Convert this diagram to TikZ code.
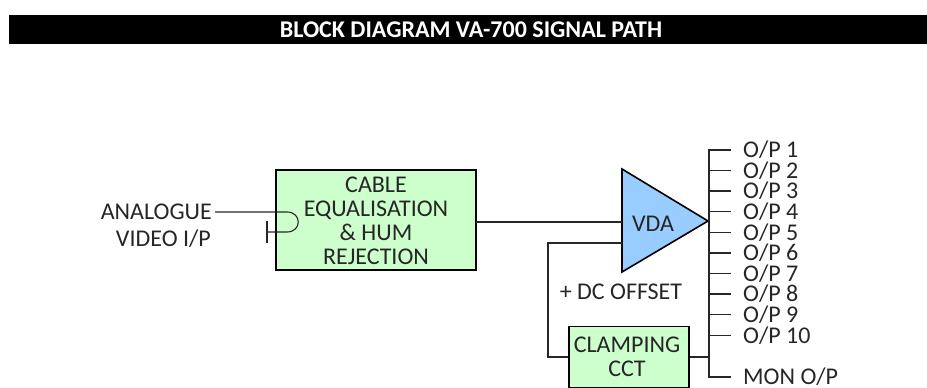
\documentclass[tikz,border=0pt]{standalone}
\usepackage{fontspec}
\setmainfont{Carlito}
\definecolor{boxgreen}{HTML}{CCFFCC}
\definecolor{ampblue}{HTML}{99CCFF}
\definecolor{inktext}{HTML}{262626}
\tikzset{
  lbl/.style={font=\fontsize{24}{24}\selectfont,text=inktext,inner sep=0pt,align=center},
  oplbl/.style={lbl,anchor=west},
  greenbox/.style={draw=black,line width=1.6pt,fill=boxgreen,minimum width=#1,inner sep=0pt,align=center},
  wire/.style={draw=inktext,line width=1.1pt},
}
\begin{document}
\begin{tikzpicture}[x=1pt,y=-1pt]
\useasboundingbox (0,0) rectangle (927,388);
\fill[black] (9,15) rectangle (927,44);
\node[font=\fontsize{24}{26}\selectfont\bfseries,text=white,inner sep=0pt] (title) at (471,30) {BLOCK DIAGRAM VA-700 SIGNAL PATH};

% blocks
\fill[boxgreen] (276,170) rectangle (476,270);
\draw[black,line width=1.6pt] (276,170) rectangle (476,270);
\coordinate (eqR) at (476,222);
\node[lbl] (eq) at (376,221) {\fontsize{24}{24.3}\selectfont CABLE\\EQUALISATION\\\&\ HUM\\REJECTION};

\coordinate (tl) at (622,169); \coordinate (bl) at (622,272); \coordinate (tip) at (708,221);
\draw[black,line width=1.6pt,fill=ampblue,line join=miter] (tl) -- (tip) -- (bl) -- cycle;
\node[lbl] (vda) at (653,224) {VDA};

\node[greenbox=120pt,minimum height=61pt] (clamp) at (629,357) {};
\node[lbl] (clamptxt) at (627,357) {\fontsize{24}{28}\selectfont CLAMPING\\CCT};

% labels
\node[lbl,anchor=east] (inA) at (212,212) {ANALOGUE};
\node[lbl,anchor=east] (inB) at (211,239) {VIDEO I/P};
\node[lbl] (dc) at (621,292) {+ DC OFFSET};

% input loop-through
\coordinate (inStart) at (215,212);
\coordinate (loopT) at (287,212);
\coordinate (loopB) at (287,232);
\coordinate (term) at (267,232);
\draw[wire] (inStart) -- (loopT) .. controls (302,212) and (302,232) .. (loopB) -- (term);
\draw[wire] (267,221) -- (267,243);

% wires
\draw[wire] (eqR) -- (622,222);
\draw[wire] (clamp.west) -- (548,357) -- (548,243) -- (622,243);
\draw[wire] (clamp.east) -- (709,357);

% comb
\coordinate (c1) at (709,150);
\coordinate (cM) at (709,377);
\draw[wire] (731,150) -- (c1) -- (cM) -- (731,377);
\foreach \y/\t in {150/1,170.5/2,191/3,211.5/4,232.5/5,253/6,273.5/7,294/8,314.5/9,335.5/10}{
  \draw[wire] (709,\y) -- (731,\y);
  \node[oplbl] (op\t) at (743,\y) {O/P \t};
}
\node[oplbl] (opM) at (743,377) {MON O/P};
\end{tikzpicture}
\end{document}
